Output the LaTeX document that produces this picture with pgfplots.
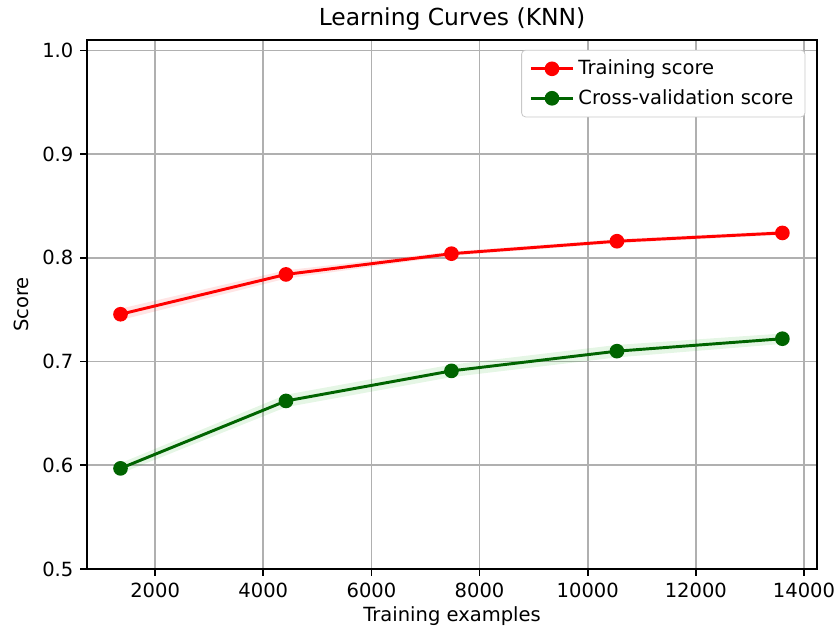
\documentclass[border=0pt]{standalone}
\usepackage{fontspec}
\setmainfont{DejaVu Sans}
\usepackage{pgfplots}
\pgfplotsset{compat=1.18}
\definecolor{mplgreen}{RGB}{0,100,0}
\definecolor{gridgray}{RGB}{176,176,176}
\begin{document}
\begin{tikzpicture}
\useasboundingbox (-44.6pt,-33.3pt) rectangle (383.2pt,291.5pt);
\begin{axis}[
  at={(0,0)}, anchor=south west,
  scale only axis,
  width=374pt, height=271pt,
  xmin=741, xmax=14241,
  ymin=0.5, ymax=1.01,
  xtick={2000,4000,...,14000},
  ytick={0.5,0.6,0.7,0.8,0.9,1.0},
  scaled x ticks=false,
  /pgf/number format/assume math mode=true,
  xticklabel style={/pgf/number format/.cd,fixed,1000 sep={}},
  yticklabel style={/pgf/number format/.cd,fixed,fixed zerofill,precision=1},
  tick align=outside,
  tick pos=left,
  major tick length=3.5pt,
  tick style={black, line width=0.8pt},
  axis line style={black, line width=0.8pt},
  grid=major,
  major grid style={gridgray, line width=0.8pt},
  ticklabel style={font=\fontsize{10}{12}\selectfont},
  label style={font=\fontsize{10}{12}\selectfont},
  xlabel style={yshift=2pt},
  title style={font=\fontsize{12}{14}\selectfont, yshift=-4.5pt},
  title={Learning Curves (KNN)},
  xlabel={Training examples},
  ylabel={Score},
  legend style={at={(1,1)}, anchor=north east, xshift=-6pt, yshift=-5pt,
    draw=gridgray!70, rounded corners=2pt, fill=white,
    font=\fontsize{10}{12}\selectfont, row sep=2pt, inner xsep=4pt, inner ysep=3pt},
  legend cell align=left,
  legend image code/.code={\draw[mark repeat=2,mark phase=2] plot coordinates {(0cm,0cm) (0.38cm,0cm) (0.76cm,0cm)};},
]
% bands
\addplot[draw=none, fill=red, fill opacity=0.1, forget plot] coordinates {
 (1360,0.751) (4420,0.788) (7480,0.806) (10540,0.818) (13600,0.826)
 (13600,0.822) (10540,0.814) (7480,0.802) (4420,0.780) (1360,0.740)} -- cycle;
\addplot[draw=none, fill=mplgreen!60!green, fill opacity=0.1, forget plot] coordinates {
 (1360,0.602) (4420,0.668) (7480,0.697) (10540,0.716) (13600,0.727)
 (13600,0.717) (10540,0.704) (7480,0.685) (4420,0.656) (1360,0.592)} -- cycle;
\addplot[red, line width=1.5pt, mark=*, mark size=3pt, mark options={solid, fill=red, draw=red}] coordinates {
 (1360,0.7456) (4420,0.784) (7480,0.804) (10540,0.816) (13600,0.824)};
\addlegendentry{Training score}
\addplot[mplgreen, line width=1.5pt, mark=*, mark size=3pt, mark options={solid, fill=mplgreen, draw=mplgreen}] coordinates {
 (1360,0.597) (4420,0.662) (7480,0.691) (10540,0.710) (13600,0.722)};
\addlegendentry{Cross-validation score}
\end{axis}
\end{tikzpicture}
\end{document}
